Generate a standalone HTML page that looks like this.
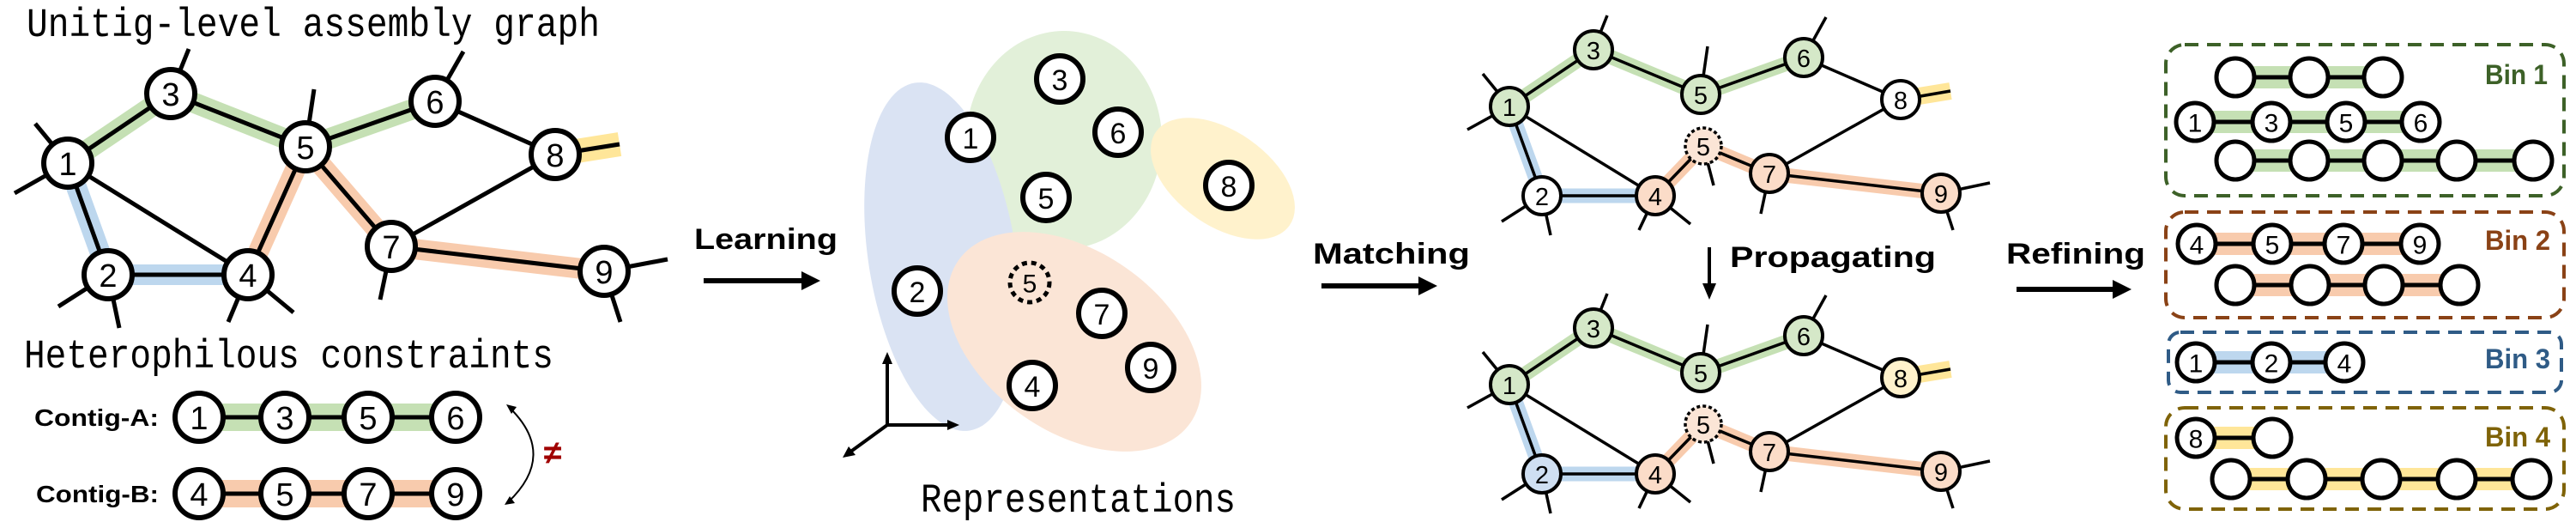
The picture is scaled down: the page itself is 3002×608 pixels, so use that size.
<!DOCTYPE html>
<html><head><meta charset="utf-8"><style>
html,body{margin:0;padding:0;background:#fff;}
svg{display:block;}
.mono{font-family:"Liberation Mono",monospace;font-size:47px;fill:#000;}
.lab{font-family:"Liberation Sans",sans-serif;font-weight:bold;fill:#000;}
.n1{font-family:"Liberation Sans",sans-serif;font-size:38px;text-anchor:middle;dominant-baseline:central;}
.n2{font-family:"Liberation Sans",sans-serif;font-size:29px;text-anchor:middle;dominant-baseline:central;}
.n3{font-family:"Liberation Sans",sans-serif;font-size:30px;text-anchor:middle;dominant-baseline:central;}
</style></head><body>
<svg width="3002" height="608" viewBox="0 0 3002 608" xmlns="http://www.w3.org/2000/svg">

<!-- ============ PANEL 1 ============ -->
<text class="mono" x="31" y="42" textLength="668" lengthAdjust="spacingAndGlyphs">Unitig-level assembly graph</text>
<g fill="none" stroke-linejoin="round">
<polyline points="79,190 199,109 356,171 507,118" stroke="#c5e0b4" stroke-width="24"/>
<polyline points="79,190 126,320 289,320" stroke="#bdd7ee" stroke-width="24"/>
<polyline points="289,320 356,171 456,287 704,316" stroke="#f8cbad" stroke-width="24"/>
<line x1="665" y1="177" x2="722" y2="168" stroke="#ffe699" stroke-width="28"/>
</g>
<g stroke="#000" stroke-width="5" fill="none">
<polyline points="79,190 199,109 356,171 507,118 647,180"/>
<polyline points="79,190 126,320 289,320 356,171 456,287 704,316"/>
<line x1="79" y1="190" x2="289" y2="320"/>
<line x1="456" y1="287" x2="647" y2="180"/>
<line x1="647" y1="180" x2="722" y2="168"/>
<line x1="79" y1="190" x2="41" y2="144"/><line x1="79" y1="190" x2="17" y2="225"/>
<line x1="199" y1="109" x2="220" y2="57"/>
<line x1="356" y1="171" x2="366" y2="104"/>
<line x1="507" y1="118" x2="540" y2="60"/>
<line x1="126" y1="320" x2="68" y2="357"/><line x1="126" y1="320" x2="139" y2="382"/>
<line x1="289" y1="320" x2="266" y2="375"/><line x1="289" y1="320" x2="342" y2="364"/>
<line x1="456" y1="287" x2="443" y2="349"/>
<line x1="704" y1="316" x2="778" y2="302"/><line x1="704" y1="316" x2="723" y2="375"/>
</g>
<g fill="#fff" stroke="#000" stroke-width="6">
<circle cx="79" cy="190" r="28"/><circle cx="199" cy="109" r="28"/><circle cx="356" cy="171" r="28"/>
<circle cx="507" cy="118" r="28"/><circle cx="647" cy="180" r="28"/><circle cx="126" cy="320" r="28"/>
<circle cx="289" cy="320" r="28"/><circle cx="456" cy="287" r="28"/><circle cx="704" cy="316" r="28"/>
</g>
<g class="n1">
<text x="79" y="192">1</text><text x="199" y="111">3</text><text x="356" y="173">5</text>
<text x="507" y="120">6</text><text x="647" y="182">8</text><text x="126" y="322">2</text>
<text x="289" y="322">4</text><text x="456" y="289">7</text><text x="704" y="318">9</text>
</g>

<text class="mono" x="28" y="428" textLength="617" lengthAdjust="spacingAndGlyphs">Heterophilous constraints</text>
<text class="lab" x="40" y="496" font-size="28" textLength="145" lengthAdjust="spacingAndGlyphs">Contig-A:</text>
<text class="lab" x="42" y="585" font-size="28" textLength="143" lengthAdjust="spacingAndGlyphs">Contig-B:</text>
<line x1="232" y1="486" x2="531" y2="486" stroke="#c5e0b4" stroke-width="32"/>
<line x1="232" y1="575" x2="531" y2="575" stroke="#f8cbad" stroke-width="32"/>
<line x1="232" y1="486" x2="531" y2="486" stroke="#000" stroke-width="5"/>
<line x1="232" y1="575" x2="531" y2="575" stroke="#000" stroke-width="5"/>
<g fill="#fff" stroke="#000" stroke-width="6">
<circle cx="232" cy="486" r="28"/><circle cx="332" cy="486" r="28"/><circle cx="429" cy="486" r="28"/><circle cx="531" cy="486" r="28"/>
<circle cx="232" cy="575" r="28"/><circle cx="332" cy="575" r="28"/><circle cx="429" cy="575" r="28"/><circle cx="531" cy="575" r="28"/>
</g>
<g class="n1">
<text x="232" y="488">1</text><text x="332" y="488">3</text><text x="429" y="488">5</text><text x="531" y="488">6</text>
<text x="232" y="577">4</text><text x="332" y="577">5</text><text x="429" y="577">7</text><text x="531" y="577">9</text>
</g>
<path d="M594,475 Q650,530 592,585" fill="none" stroke="#000" stroke-width="2"/>
<path d="M590,471 L602,474 L596,482 z" fill="#000"/>
<path d="M588,588 L600,586 L594,578 z" fill="#000"/>
<text x="644" y="540" font-family="Liberation Sans, sans-serif" font-size="38" font-weight="bold" fill="#a00000" text-anchor="middle">≠</text>

<!-- ============ PANEL 2 ============ -->
<text class="lab" x="809" y="290" font-size="34" textLength="167" lengthAdjust="spacingAndGlyphs">Learning</text>
<line x1="820" y1="327" x2="938" y2="327" stroke="#000" stroke-width="6"/>
<path d="M956,327 L934,316 L934,338 z" fill="#000"/>

<ellipse cx="1240" cy="163" rx="114" ry="127" fill="#e2f0d9"/>
<ellipse cx="1425" cy="208" rx="95" ry="55" transform="rotate(35 1425 208)" fill="#fff2cc"/>
<ellipse cx="1098" cy="299" rx="86" ry="205" transform="rotate(-9 1098 299)" fill="#dae3f3"/>
<ellipse cx="1252" cy="398" rx="165" ry="105" transform="rotate(35 1252 398)" fill="#fbe5d6"/>

<g fill="#fff" stroke="#000" stroke-width="6">
<circle cx="1235" cy="92" r="27"/><circle cx="1131" cy="160" r="27"/><circle cx="1303" cy="154" r="27"/>
<circle cx="1219" cy="230" r="27"/><circle cx="1432" cy="216" r="27"/><circle cx="1069" cy="339" r="27"/>
<circle cx="1284" cy="365" r="27"/><circle cx="1341" cy="428" r="27"/><circle cx="1203" cy="449" r="27"/>
</g>
<circle cx="1200" cy="329" r="23" fill="none" stroke="#000" stroke-width="5" stroke-dasharray="6 5"/>
<g class="n1">
<text x="1235" y="94" font-size="34">3</text><text x="1131" y="162" font-size="34">1</text><text x="1303" y="156" font-size="34">6</text>
<text x="1219" y="232" font-size="34">5</text><text x="1432" y="218" font-size="34">8</text><text x="1069" y="341" font-size="34">2</text>
<text x="1284" y="367" font-size="34">7</text><text x="1341" y="430" font-size="34">9</text><text x="1203" y="451" font-size="34">4</text>
<text x="1200" y="331" font-size="30">5</text>
</g>
<g stroke="#000" stroke-width="4">
<line x1="1034" y1="495" x2="1034" y2="420"/>
<line x1="1034" y1="495" x2="1108" y2="495"/>
<line x1="1034" y1="495" x2="990" y2="527"/>
</g>
<path d="M1034,410 L1028,424 L1040,424 z" fill="#000"/>
<path d="M1118,495 L1104,489 L1104,501 z" fill="#000"/>
<path d="M982,533 L989,520 L997,530 z" fill="#000"/>
<text class="mono" x="1073" y="596" textLength="367" lengthAdjust="spacingAndGlyphs">Representations</text>

<!-- ============ PANEL 3 ============ -->
<text class="lab" x="1530" y="307" font-size="34" textLength="183" lengthAdjust="spacingAndGlyphs">Matching</text>
<line x1="1540" y1="333" x2="1658" y2="333" stroke="#000" stroke-width="6"/>
<path d="M1675,333 L1653,322 L1653,344 z" fill="#000"/>

<text class="lab" x="2016" y="311" font-size="34" textLength="240" lengthAdjust="spacingAndGlyphs">Propagating</text>
<line x1="1992" y1="288" x2="1992" y2="332" stroke="#000" stroke-width="4"/>
<path d="M1992,349 L1984,330 L2000,330 z" fill="#000"/>

<g>
<g fill="none" stroke-linejoin="round">
<polyline points="1759,124 1857,58 1982,110 2102,67" stroke="#c5e0b4" stroke-width="17"/>
<polyline points="1759,124 1797,228 1929,228" stroke="#bdd7ee" stroke-width="17"/>
<polyline points="1929,228 1985,170 2062,202 2262,225" stroke="#f8cbad" stroke-width="17"/>
<line x1="2230" y1="113" x2="2273" y2="106" stroke="#ffe699" stroke-width="20"/>
</g>
<g stroke="#000" stroke-width="3.5" fill="none">
<polyline points="1759,124 1857,58 1982,110 2102,67 2215,116"/>
<polyline points="1759,124 1797,228 1929,228 1985,170 2062,202 2262,225"/>
<line x1="1759" y1="124" x2="1929" y2="228"/>
<line x1="2062" y1="202" x2="2215" y2="116"/>
<line x1="2215" y1="116" x2="2273" y2="106"/>
<line x1="1759" y1="124" x2="1728" y2="86"/><line x1="1759" y1="124" x2="1710" y2="151"/>
<line x1="1857" y1="58" x2="1873" y2="18"/>
<line x1="1982" y1="110" x2="1990" y2="54"/>
<line x1="2102" y1="67" x2="2128" y2="20"/>
<line x1="1985" y1="170" x2="1997" y2="216"/>
<line x1="1797" y1="228" x2="1750" y2="258"/><line x1="1797" y1="228" x2="1807" y2="274"/>
<line x1="1929" y1="228" x2="1910" y2="268"/><line x1="1929" y1="228" x2="1970" y2="261"/>
<line x1="2062" y1="202" x2="2052" y2="249"/>
<line x1="2262" y1="225" x2="2319" y2="213"/><line x1="2262" y1="225" x2="2276" y2="268"/>
</g>
<g stroke="#000" stroke-width="4">
<circle cx="1759" cy="124" r="22" fill="#d5e8c8"/><circle cx="1857" cy="58" r="22" fill="#d5e8c8"/>
<circle cx="1982" cy="110" r="22" fill="#d5e8c8"/><circle cx="2102" cy="67" r="22" fill="#d5e8c8"/>
<circle cx="2215" cy="116" r="22" fill="#fff"/><circle cx="1797" cy="228" r="22" fill="#fff"/>
<circle cx="1929" cy="228" r="22" fill="#fbdcc8"/><circle cx="2062" cy="202" r="22" fill="#fbdcc8"/>
<circle cx="2262" cy="225" r="22" fill="#fbdcc8"/>
</g>
<circle cx="1985" cy="170" r="21" fill="#fbe5d6" stroke="#000" stroke-width="3.5" stroke-dasharray="4 3"/>
<g class="n2">
<text x="1759" y="126">1</text><text x="1857" y="60">3</text><text x="1982" y="112">5</text><text x="2102" y="69">6</text>
<text x="2215" y="118">8</text><text x="1797" y="230">2</text><text x="1929" y="230">4</text><text x="2062" y="204">7</text>
<text x="2262" y="227">9</text><text x="1985" y="172">5</text>
</g>
</g>

<g transform="translate(0,324)">
<g fill="none" stroke-linejoin="round">
<polyline points="1759,124 1857,58 1982,110 2102,67" stroke="#c5e0b4" stroke-width="17"/>
<polyline points="1759,124 1797,228 1929,228" stroke="#bdd7ee" stroke-width="17"/>
<polyline points="1929,228 1985,170 2062,202 2262,225" stroke="#f8cbad" stroke-width="17"/>
<line x1="2230" y1="113" x2="2273" y2="106" stroke="#ffe699" stroke-width="20"/>
</g>
<g stroke="#000" stroke-width="3.5" fill="none">
<polyline points="1759,124 1857,58 1982,110 2102,67 2215,116"/>
<polyline points="1759,124 1797,228 1929,228 1985,170 2062,202 2262,225"/>
<line x1="1759" y1="124" x2="1929" y2="228"/>
<line x1="2062" y1="202" x2="2215" y2="116"/>
<line x1="2215" y1="116" x2="2273" y2="106"/>
<line x1="1759" y1="124" x2="1728" y2="86"/><line x1="1759" y1="124" x2="1710" y2="151"/>
<line x1="1857" y1="58" x2="1873" y2="18"/>
<line x1="1982" y1="110" x2="1990" y2="54"/>
<line x1="2102" y1="67" x2="2128" y2="20"/>
<line x1="1985" y1="170" x2="1997" y2="216"/>
<line x1="1797" y1="228" x2="1750" y2="258"/><line x1="1797" y1="228" x2="1807" y2="274"/>
<line x1="1929" y1="228" x2="1910" y2="268"/><line x1="1929" y1="228" x2="1970" y2="261"/>
<line x1="2062" y1="202" x2="2052" y2="249"/>
<line x1="2262" y1="225" x2="2319" y2="213"/><line x1="2262" y1="225" x2="2276" y2="268"/>
</g>
<g stroke="#000" stroke-width="4">
<circle cx="1759" cy="124" r="22" fill="#d5e8c8"/><circle cx="1857" cy="58" r="22" fill="#d5e8c8"/>
<circle cx="1982" cy="110" r="22" fill="#d5e8c8"/><circle cx="2102" cy="67" r="22" fill="#d5e8c8"/>
<circle cx="2215" cy="116" r="22" fill="#fff2cc"/><circle cx="1797" cy="228" r="22" fill="#cfdff2"/>
<circle cx="1929" cy="228" r="22" fill="#fbdcc8"/><circle cx="2062" cy="202" r="22" fill="#fbdcc8"/>
<circle cx="2262" cy="225" r="22" fill="#fbdcc8"/>
</g>
<circle cx="1985" cy="170" r="21" fill="#fbe5d6" stroke="#000" stroke-width="3.5" stroke-dasharray="4 3"/>
<g class="n2">
<text x="1759" y="126">1</text><text x="1857" y="60">3</text><text x="1982" y="112">5</text><text x="2102" y="69">6</text>
<text x="2215" y="118">8</text><text x="1797" y="230">2</text><text x="1929" y="230">4</text><text x="2062" y="204">7</text>
<text x="2262" y="227">9</text><text x="1985" y="172">5</text>
</g>
</g>

<!-- ============ PANEL 4 ============ -->
<text class="lab" x="2338" y="307" font-size="34" textLength="162" lengthAdjust="spacingAndGlyphs">Refining</text>
<line x1="2350" y1="337" x2="2466" y2="337" stroke="#000" stroke-width="6"/>
<path d="M2484,337 L2462,326 L2462,348 z" fill="#000"/>

<g fill="none" stroke-width="4" stroke-dasharray="16 10">
<rect x="2524" y="52" width="464" height="176" rx="22" stroke="#3d6128"/>
<rect x="2524" y="247" width="464" height="123" rx="22" stroke="#8a4216"/>
<rect x="2527" y="387" width="458" height="70" rx="14" stroke="#2f5b86"/>
<rect x="2524" y="475" width="464" height="118" rx="22" stroke="#7f6308"/>
</g>
<g class="lab" font-size="32">
<text x="2896" y="98" fill="#3d6128" textLength="73" lengthAdjust="spacingAndGlyphs">Bin 1</text>
<text x="2896" y="291" fill="#8a4216" textLength="76" lengthAdjust="spacingAndGlyphs">Bin 2</text>
<text x="2896" y="429" fill="#2f5b86" textLength="76" lengthAdjust="spacingAndGlyphs">Bin 3</text>
<text x="2896" y="520" fill="#7f6308" textLength="76" lengthAdjust="spacingAndGlyphs">Bin 4</text>
</g>
<g stroke-width="26">
<line x1="2605" y1="90" x2="2777" y2="90" stroke="#c5e0b4"/>
<line x1="2558" y1="142" x2="2821" y2="142" stroke="#c5e0b4"/>
<line x1="2605" y1="187" x2="2952" y2="187" stroke="#c5e0b4"/>
<line x1="2560" y1="284" x2="2820" y2="284" stroke="#f8cbad"/>
<line x1="2605" y1="332" x2="2866" y2="332" stroke="#f8cbad"/>
<line x1="2559" y1="422" x2="2732" y2="422" stroke="#bdd7ee"/>
<line x1="2559" y1="510" x2="2648" y2="510" stroke="#ffe699"/>
<line x1="2600" y1="558" x2="2950" y2="558" stroke="#ffe699"/>
</g>
<g stroke="#000" stroke-width="5">
<line x1="2605" y1="90" x2="2777" y2="90"/>
<line x1="2558" y1="142" x2="2821" y2="142"/>
<line x1="2605" y1="187" x2="2952" y2="187"/>
<line x1="2560" y1="284" x2="2820" y2="284"/>
<line x1="2605" y1="332" x2="2866" y2="332"/>
<line x1="2559" y1="422" x2="2732" y2="422"/>
<line x1="2559" y1="510" x2="2648" y2="510"/>
<line x1="2600" y1="558" x2="2950" y2="558"/>
</g>
<g fill="#fff" stroke="#000" stroke-width="5">
<circle cx="2605" cy="90" r="22"/><circle cx="2691" cy="90" r="22"/><circle cx="2777" cy="90" r="22"/>
<circle cx="2558" cy="142" r="22"/><circle cx="2647" cy="142" r="22"/><circle cx="2734" cy="142" r="22"/><circle cx="2821" cy="142" r="22"/>
<circle cx="2605" cy="187" r="22"/><circle cx="2691" cy="187" r="22"/><circle cx="2777" cy="187" r="22"/><circle cx="2863" cy="187" r="22"/><circle cx="2952" cy="187" r="22"/>
<circle cx="2560" cy="284" r="22"/><circle cx="2648" cy="284" r="22"/><circle cx="2731" cy="284" r="22"/><circle cx="2820" cy="284" r="22"/>
<circle cx="2605" cy="332" r="22"/><circle cx="2692" cy="332" r="22"/><circle cx="2778" cy="332" r="22"/><circle cx="2866" cy="332" r="22"/>
<circle cx="2559" cy="422" r="22"/><circle cx="2647" cy="422" r="22"/><circle cx="2732" cy="422" r="22"/>
<circle cx="2559" cy="510" r="22"/><circle cx="2648" cy="510" r="22"/>
<circle cx="2600" cy="558" r="22"/><circle cx="2688" cy="558" r="22"/><circle cx="2775" cy="558" r="22"/><circle cx="2863" cy="558" r="22"/><circle cx="2950" cy="558" r="22"/>
</g>
<g class="n3">
<text x="2558" y="144">1</text><text x="2647" y="144">3</text><text x="2734" y="144">5</text><text x="2821" y="144">6</text>
<text x="2560" y="286">4</text><text x="2648" y="286">5</text><text x="2731" y="286">7</text><text x="2820" y="286">9</text>
<text x="2559" y="424">1</text><text x="2647" y="424">2</text><text x="2732" y="424">4</text>
<text x="2559" y="512">8</text>
</g>
</svg>
</body></html>
